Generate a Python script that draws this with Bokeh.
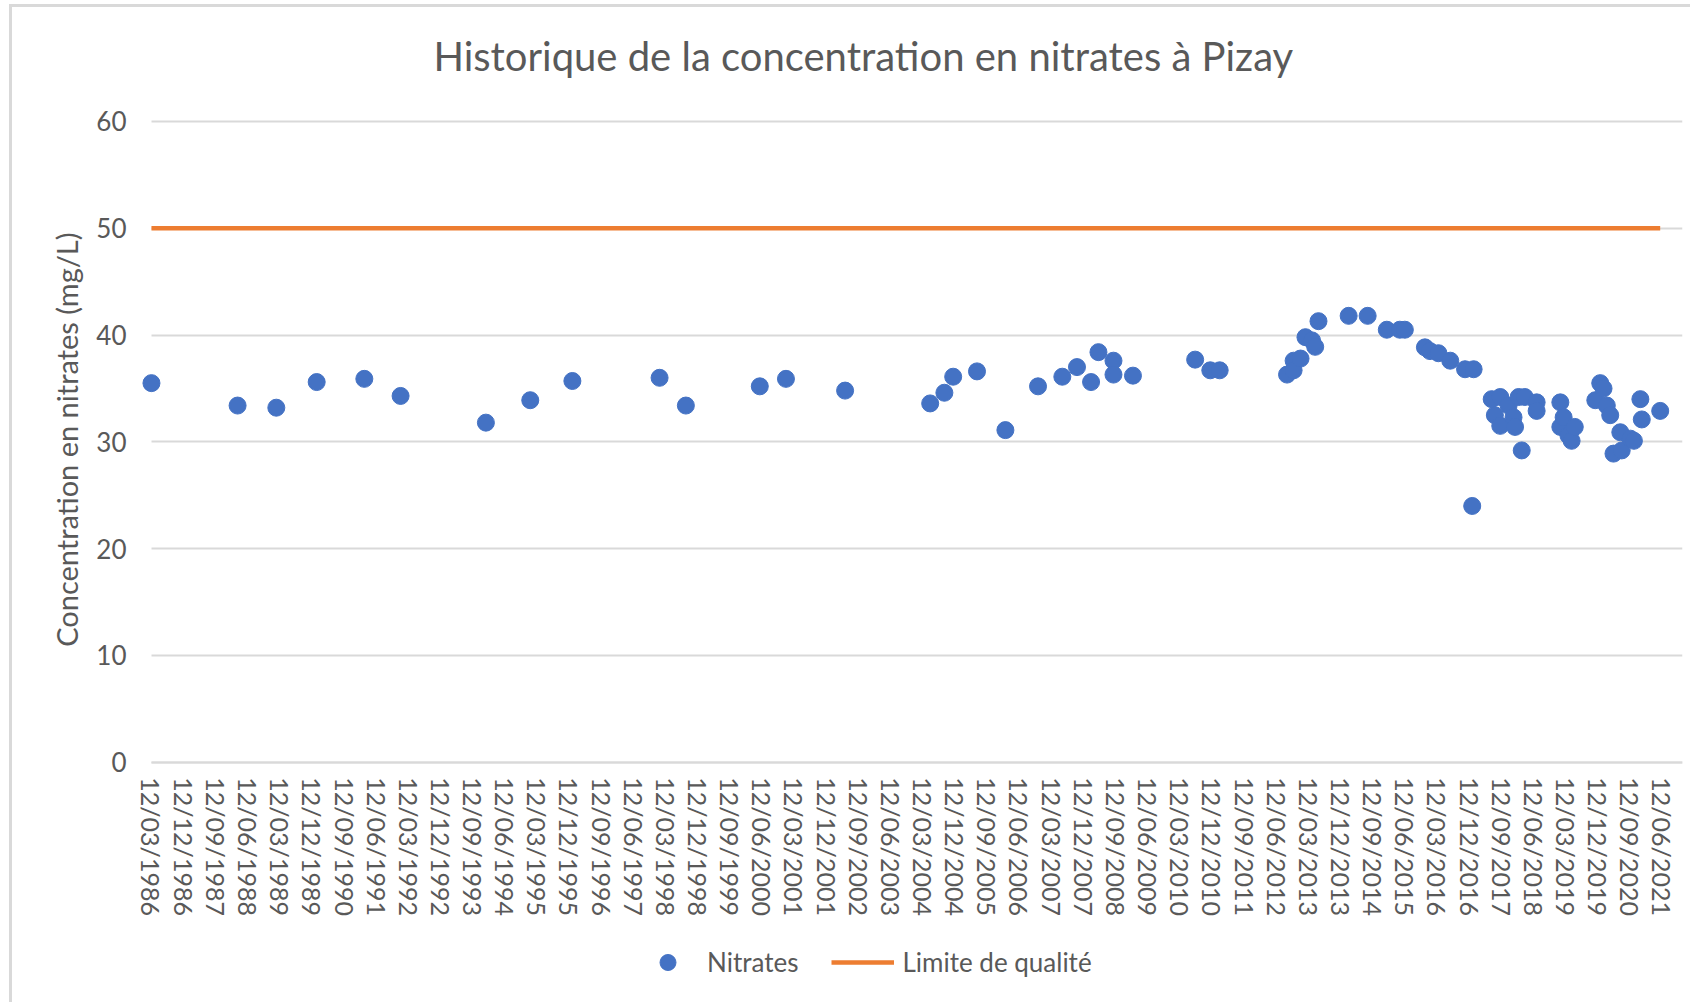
import pandas as pd
from bokeh.plotting import figure
from bokeh.models import (FixedTicker, DatetimeTickFormatter, Range1d, Legend,
                          LegendItem, ColumnDataSource, Title, Label)
from bokeh.embed import file_html
from bokeh.resources import INLINE

title_text = "Historique de la concentration en nitrates à Pizay"
y_label = "Concentration en nitrates (mg/L)"
series_names = ["Nitrates", "Limite de qualité"]

nitrate_dates = [
    "1986-03-12", "1988-03-15", "1989-02-08", "1990-01-18", "1991-02-28",
    "1992-01-03", "1993-12-30", "1995-01-12", "1996-01-06", "1998-01-18",
    "1998-08-30", "2000-05-21", "2000-12-30", "2002-05-18", "2004-05-12",
    "2004-09-10", "2004-11-24", "2005-06-15", "2006-02-12", "2006-11-17",
    "2007-06-12", "2007-10-15", "2008-02-12", "2008-04-15", "2008-08-21",
    "2008-08-21", "2009-02-03", "2010-07-18", "2010-11-24", "2011-02-12",
    "2012-09-08", "2012-11-03", "2012-11-03", "2013-01-01", "2013-02-12",
    "2013-04-09", "2013-05-06", "2013-06-03", "2014-02-15", "2014-07-27",
    "2015-01-06", "2015-04-27", "2015-06-09", "2015-11-27", "2016-01-09",
    "2016-03-21", "2016-06-30", "2016-11-03", "2017-01-15", "2017-01-03",
    "2017-06-18", "2017-07-15", "2017-08-30", "2017-08-30", "2017-11-09",
    "2017-12-21", "2018-01-03", "2018-02-03", "2018-03-01", "2018-03-27",
    "2018-07-06", "2018-07-06", "2019-01-24", "2019-01-24", "2019-02-21",
    "2019-04-03", "2019-04-30", "2019-05-27", "2019-11-18", "2019-12-30",
    "2020-01-27", "2020-02-24", "2020-03-24", "2020-04-21", "2020-06-18",
    "2020-06-30", "2020-09-12", "2020-10-12", "2020-12-06", "2020-12-18",
    "2021-05-24",
]
nitrate_values = [
    35.5, 33.4, 33.2, 35.6, 35.9,
    34.3, 31.8, 33.9, 35.7, 36.0,
    33.4, 35.2, 35.9, 34.8, 33.6,
    34.6, 36.1, 36.6, 31.1, 35.2,
    36.1, 37.0, 35.6, 38.4, 37.6,
    36.3, 36.2, 37.7, 36.7, 36.7,
    36.3, 37.6, 36.7, 37.8, 39.8,
    39.5, 38.9, 41.3, 41.8, 41.8,
    40.5, 40.5, 40.5, 38.85, 38.5,
    38.3, 37.6, 36.8, 36.8, 24.0,
    34.0, 32.5, 34.2, 31.5, 33.4,
    32.3, 31.4, 34.2, 29.2, 34.2,
    33.7, 32.9, 33.7, 31.4, 32.3,
    30.6, 30.1, 31.4, 33.9, 35.5,
    35.0, 33.4, 32.5, 28.9, 30.9,
    29.2, 30.3, 30.1, 34.0, 32.1,
    32.9,
]
limit_dates = ["1986-03-12", "2021-05-24"]
limit_values = [50, 50]

tick_dates = [
    "1986-03-12", "1986-12-12", "1987-09-12", "1988-06-12", "1989-03-12",
    "1989-12-12", "1990-09-12", "1991-06-12", "1992-03-12", "1992-12-12",
    "1993-09-12", "1994-06-12", "1995-03-12", "1995-12-12", "1996-09-12",
    "1997-06-12", "1998-03-12", "1998-12-12", "1999-09-12", "2000-06-12",
    "2001-03-12", "2001-12-12", "2002-09-12", "2003-06-12", "2004-03-12",
    "2004-12-12", "2005-09-12", "2006-06-12", "2007-03-12", "2007-12-12",
    "2008-09-12", "2009-06-12", "2010-03-12", "2010-12-12", "2011-09-12",
    "2012-06-12", "2013-03-12", "2013-12-12", "2014-09-12", "2015-06-12",
    "2016-03-12", "2016-12-12", "2017-09-12", "2018-06-12", "2019-03-12",
    "2019-12-12", "2020-09-12", "2021-06-12",
]
y_ticks = [0, 10, 20, 30, 40, 50, 60]
y_min, y_max = 0, 60
x_start, x_end = "1986-03-12", "2021-11-30"

# layout room (not data): the view starts a little before the axis so the
# first date label is not clipped; extra room under y=0 for the date labels
# and the legend, and above y=60 for the chart title
X_VIEW_START = "1985-10-27"
Y_PAD_BELOW = 22.3
Y_PAD_ABOVE = 9.45
TITLE_X = "2002-10-20"   # horizontal centre of the title
TITLE_Y = 66.15          # baseline of the title


def ms(d):
    return pd.Timestamp(d).value // 10**6


FONT = "Lato"
GREY = "#595959"
BORDER = "#d9d9d9"

p = figure(width=1690, height=1002, x_axis_type="datetime", output_backend="svg",
           toolbar_location=None, title=None,
           x_range=Range1d(ms(X_VIEW_START), ms(x_end)),
           y_range=Range1d(y_min - Y_PAD_BELOW, y_max + Y_PAD_ABOVE),
           min_border_left=135, min_border_right=8, min_border_top=20,
           min_border_bottom=2)

p.outline_line_color = None
p.background_fill_color = "white"
p.border_fill_alpha = 0
# thin chart-area border (left and top), as in the spreadsheet chart
p.styles = {
    "background": (f"linear-gradient({BORDER},{BORDER}) 9px 4px / 3px 100% no-repeat, "
                   f"linear-gradient({BORDER},{BORDER}) 9px 4px / 100% 3px no-repeat, "
                   "white"),
}

# grids
p.xgrid.grid_line_color = None
p.ygrid.grid_line_color = BORDER
p.ygrid.grid_line_width = 2
p.ygrid.ticker = FixedTicker(ticks=y_ticks)
try:
    p.ygrid.cross_bounds = (ms(x_start), ms(x_end))
except Exception:
    pass

# y axis
yax = p.yaxis[0]
yax.ticker = FixedTicker(ticks=y_ticks)
yax.axis_line_color = None
yax.major_tick_line_color = None
yax.minor_tick_line_color = None
yax.major_label_text_font = FONT
yax.major_label_text_font_size = "26px"
yax.major_label_text_color = GREY
yax.major_label_standoff = 3

# y axis title, positioned along the 0..60 part of the axis
p.add_layout(Title(text=y_label, align="right", offset=212, standoff=20,
                   text_font=FONT, text_font_size="29px",
                   text_font_style="normal", text_color=GREY), "left")

# x axis, drawn at y = 0
fmt = "%d/%m/%Y"
xax = p.xaxis[0]
xax.fixed_location = y_min
xax.bounds = (ms(x_start), ms(x_end))
xax.ticker = FixedTicker(ticks=[ms(d) for d in tick_dates])
xax.formatter = DatetimeTickFormatter(
    microseconds=fmt, milliseconds=fmt, seconds=fmt, minsec=fmt, minutes=fmt,
    hourmin=fmt, hours=fmt, days=fmt, months=fmt, years=fmt)
xax.major_label_orientation = "vertical"
xax.axis_line_color = BORDER
xax.axis_line_width = 2
xax.major_tick_line_color = None
xax.minor_tick_line_color = None
xax.major_label_text_font = FONT
xax.major_label_text_font_size = "25px"
xax.major_label_text_color = GREY
xax.major_label_standoff = 9

# chart title
p.add_layout(Label(x=ms(TITLE_X), y=TITLE_Y, text=title_text,
                   text_align="center", text_baseline="alphabetic",
                   text_font=FONT, text_font_size="40px",
                   text_color=GREY))

nit_src = ColumnDataSource(dict(x=pd.to_datetime(nitrate_dates), y=nitrate_values))
lim_src = ColumnDataSource(dict(x=pd.to_datetime(limit_dates), y=limit_values))

r_lim = p.line("x", "y", source=lim_src, line_color="#ED7D31", line_width=4.5)
r_nit = p.scatter("x", "y", source=nit_src, size=17, fill_color="#4472C4",
                  line_color="#4472C4")

legend = Legend(items=[LegendItem(label=series_names[0], renderers=[r_nit]),
                       LegendItem(label=series_names[1], renderers=[r_lim])],
                orientation="horizontal", location=(501, 18),
                glyph_width=63, glyph_height=40, label_standoff=8, spacing=33,
                padding=0, margin=0, border_line_color=None,
                background_fill_alpha=0, label_text_font=FONT,
                label_text_font_size="26px", label_text_color=GREY)
p.add_layout(legend, "center")

open("out.html", "w").write(file_html(p, INLINE))
